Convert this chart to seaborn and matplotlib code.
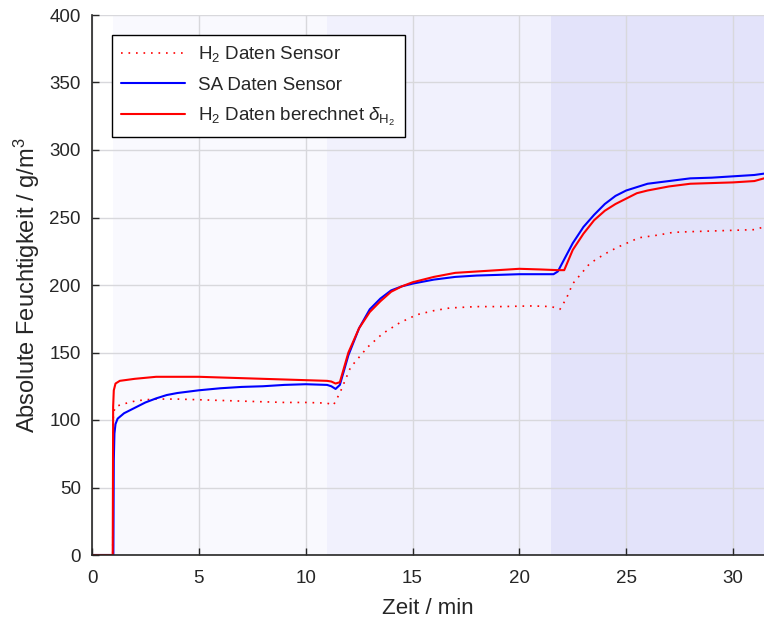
import matplotlib
matplotlib.use("Agg")
import matplotlib.pyplot as plt
import seaborn as sns
import pandas as pd

# ---- data ----
t_ber = [0, 0.97, 0.99, 1.02, 1.1, 1.3, 2, 3, 4, 5, 6, 7, 8, 9, 10, 11, 11.2, 11.4, 11.6,
         12.0, 12.5, 13.0, 13.5, 14.0, 14.5, 15, 16, 17, 18, 19, 20, 21, 21.8, 22.1, 22.5,
         23, 23.5, 24, 24.5, 25, 25.5, 26, 27, 28, 29, 30, 31, 31.45]
y_ber = [0, 0, 110, 122, 127, 129, 130.5, 132, 132, 132, 131.5, 131, 130.5, 130, 129.5, 129,
         128.5, 127, 128, 150, 168, 180, 188, 195, 199, 202, 206, 209, 210, 211, 212, 211.5,
         211, 211, 226, 238, 248, 255, 260, 264, 268, 270, 273, 275, 275.5, 276, 277, 279]

t_sa = [0, 1.0, 1.02, 1.05, 1.1, 1.2, 1.5, 2, 2.5, 3, 3.5, 4, 5, 6, 7, 8, 9, 10, 11, 11.2,
        11.4, 11.6, 12, 12.5, 13, 13.5, 14, 14.5, 15, 16, 17, 18, 19, 20, 21, 21.6, 21.8,
        22.2, 22.5, 23, 23.5, 24, 24.5, 25, 26, 27, 28, 29, 30, 31, 31.45]
y_sa = [0, 0, 70, 90, 97, 101, 105, 109, 113, 116, 118.5, 120, 122, 123.5, 124.5, 125, 126,
        126.5, 126, 125, 123, 126, 148, 168, 182, 190, 196, 199, 201, 204, 206, 207, 207.5,
        208, 208, 208, 210, 222, 231, 243, 252, 260, 266, 270, 275, 277, 279, 279.5, 280.5,
        281.5, 282.5]

t_h2 = [0, 0.97, 1.0, 1.1, 1.5, 2, 2.5, 3, 4, 5, 6, 7, 8, 9, 10, 11, 11.3, 11.6, 12.1, 12.9,
        13.6, 14.4, 15.2, 16, 16.75, 18, 19.1, 20.6, 21.5, 21.9, 22.2, 22.5, 23.3, 24, 24.6,
        25.6, 26.5, 27.2, 28, 29, 30, 31, 31.45]
y_h2 = [0, 0, 105, 110, 112, 114, 115, 115.5, 115.5, 115, 114.5, 114, 113.5, 113, 113, 112.5,
        111, 120, 139, 154, 164, 172, 178, 181, 183, 184, 184, 184.5, 184, 182, 190, 201, 216,
        223, 228, 235, 237, 239, 239.5, 240, 240.5, 241, 243]

phase_starts = [1.0, 11.0, 21.5]
phase_ends = [11.0, 21.5, 31.45]
phase_colors = ["#f9f9fe", "#f1f1fd", "#e3e3fa"]

labels = [r"H$_2$ Daten Sensor", "SA Daten Sensor",
          r"H$_2$ Daten berechnet $\delta_{\mathrm{H}_2}$"]

# ---- style ----
sns.set_style("ticks")
plt.rcParams["font.family"] = ["Liberation Sans", "DejaVu Sans"]
plt.rcParams["mathtext.fontset"] = "custom"
plt.rcParams["mathtext.rm"] = "Liberation Sans"
plt.rcParams["mathtext.it"] = "Liberation Sans:italic"

fig = plt.figure(figsize=(7.64, 6.2), dpi=100)
ax = fig.add_axes([92 / 764, 65 / 620, 672 / 764, 540 / 620])

for s, e, c in zip(phase_starts, phase_ends, phase_colors):
    ax.axvspan(s, e, color=c, lw=0, zorder=0)

ax.grid(True, color="#d8d8dc", lw=1.0, zorder=0.5)
ax.set_axisbelow(True)

df_h2 = pd.DataFrame({"t": t_h2, "y": y_h2})
df_sa = pd.DataFrame({"t": t_sa, "y": y_sa})
df_ber = pd.DataFrame({"t": t_ber, "y": y_ber})

sns.lineplot(data=df_h2, x="t", y="y", ax=ax, color="#ff0000", lw=1.2,
             linestyle=(0, (1, 3.5)), estimator=None, sort=False, label=labels[0])
sns.lineplot(data=df_sa, x="t", y="y", ax=ax, color="#0000ff", lw=1.5,
             estimator=None, sort=False, label=labels[1])
sns.lineplot(data=df_ber, x="t", y="y", ax=ax, color="#ff0000", lw=1.5,
             estimator=None, sort=False, label=labels[2])

ax.set_xlim(0, 31.45)
ax.set_ylim(0, 400)
ax.set_xticks(range(0, 31, 5))
ax.set_yticks(range(0, 401, 50))
ax.tick_params(direction="in", length=5, width=1, labelsize=13.5, colors="#262626",
               labelcolor="#262626")
ax.tick_params(axis="x", pad=11)
ax.tick_params(axis="y", pad=8)
for sp in ["top", "right"]:
    ax.spines[sp].set_visible(False)
for sp in ["left", "bottom"]:
    ax.spines[sp].set_color("#262626")
    ax.spines[sp].set_linewidth(1.2)

ax.set_xlabel("Zeit / min", fontsize=16, color="#262626", labelpad=8)
ax.set_ylabel("Absolute Feuchtigkeit / g/m$^3$", fontsize=17, color="#262626", labelpad=5)

leg = ax.legend(loc="upper left", bbox_to_anchor=(20 / 672, 520 / 540), fontsize=13.5,
                frameon=True, fancybox=False, framealpha=1, edgecolor="black",
                handlelength=3.4, handletextpad=0.7, labelspacing=0.65,
                borderpad=0.5, borderaxespad=0)
leg.get_frame().set_linewidth(1.0)

fig.savefig("out.png", dpi=100)
